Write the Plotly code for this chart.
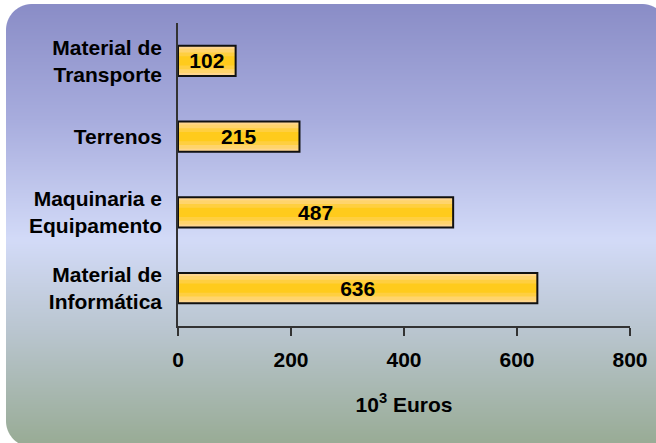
import base64
import struct
import zlib

import numpy as np
import plotly.graph_objects as go

# ---------------- data ----------------
categories = ["Material de<br>Informática", "Maquinaria e<br>Equipamento", "Terrenos", "Material de<br>Transporte"]
values = [636, 487, 215, 102]
x_ticks = [0, 200, 400, 600, 800]
x_title = "10<sup>3</sup> Euros"

# ---------------- layout geometry ----------------
W, H = 656, 443
ML, MR, MT, MB = 178, 26, 23, 117
PW, PH = W - ML - MR, H - MT - MB


def make_background_png():
    stops_y = np.array([0, 120, 240, 330, 443], dtype=float)
    stops_c = np.array([
        [137, 140, 198],
        [168, 173, 222],
        [211, 219, 248],
        [186, 198, 208],
        [153, 172, 150],
    ], dtype=float)
    ys = np.arange(H) + 0.5
    col = np.stack([np.interp(ys, stops_y, stops_c[:, k]) for k in range(3)], axis=1)
    img = np.zeros((H, W, 4), dtype=float)
    img[:, :, :3] = col[:, None, :]
    x0, y0, x1, y1, r = 6.0, 4.0, 668.0, 447.0, 26.0
    xx = np.arange(W)[None, :] + 0.5
    yy = np.arange(H)[:, None] + 0.5
    cx = np.clip(xx, x0 + r, x1 - r)
    cy = np.clip(yy, y0 + r, y1 - r)
    d = np.sqrt((xx - cx) ** 2 + (yy - cy) ** 2)
    alpha = np.clip(r + 0.5 - d, 0, 1)
    inside = (xx >= x0) & (xx <= x1) & (yy >= y0) & (yy <= y1)
    alpha = alpha * inside
    img[:, :, 3] = alpha * 255
    data = np.clip(img, 0, 255).astype(np.uint8)
    raw = b"".join(b"\x00" + data[i].tobytes() for i in range(H))

    def chunk(tag, payload):
        c = struct.pack(">I", len(payload)) + tag + payload
        return c + struct.pack(">I", zlib.crc32(tag + payload) & 0xFFFFFFFF)

    png = b"\x89PNG\r\n\x1a\n"
    png += chunk(b"IHDR", struct.pack(">IIBBBBB", W, H, 8, 6, 0, 0, 0))
    png += chunk(b"IDAT", zlib.compress(raw, 9))
    png += chunk(b"IEND", b"")
    return "data:image/png;base64," + base64.b64encode(png).decode()


FONT = "Liberation Sans, Arial, sans-serif"

fig = go.Figure()

layers = [(0.40, "#FFD68E"), (0.32, "#FFD46C"), (0.22, "#FFCF40"), (0.12, "#FFCB1C")]
for w, c in layers:
    fig.add_trace(go.Bar(
        x=values, y=categories, orientation="h", width=w,
        marker=dict(color=c, line=dict(width=0)),
        hoverinfo="skip", showlegend=False,
    ))

fig.add_trace(go.Bar(
    x=values, y=categories, orientation="h", width=0.40,
    marker=dict(color="rgba(0,0,0,0)", line=dict(color="#111111", width=2)),
    text=[str(v) for v in values], textposition="inside",
    insidetextanchor="middle", constraintext="none", textangle=0,
    textfont=dict(family=FONT, size=21, color="black", weight="bold"),
    showlegend=False,
))

fig.update_layout(
    width=W, height=H,
    margin=dict(l=ML, r=MR, t=MT, b=MB, pad=0, autoexpand=False),
    paper_bgcolor="white",
    plot_bgcolor="rgba(0,0,0,0)",
    barmode="overlay",
    font=dict(family=FONT, size=21, color="black", weight="bold"),
    images=[dict(
        source=make_background_png(),
        xref="paper", yref="paper",
        x=-ML / PW, y=1 + MT / PH,
        sizex=W / PW, sizey=H / PH,
        xanchor="left", yanchor="top",
        sizing="stretch", layer="below",
    )],
    xaxis=dict(
        range=[0, 800], tickvals=x_ticks, ticktext=[str(t) for t in x_ticks],
        showgrid=False, zeroline=False, automargin=False,
        showline=True, linecolor="#333333", linewidth=1.5,
        ticks="outside", ticklen=8, tickwidth=1.5, tickcolor="#333333",
        tickfont=dict(family=FONT, size=21, color="black", weight="bold"),
        ticklabelstandoff=6,
        title=dict(text=x_title, standoff=27,
                   font=dict(family=FONT, size=21, color="black", weight="bold")),
        fixedrange=True,
    ),
    yaxis=dict(
        categoryorder="array", categoryarray=categories,
        range=[-0.5, 3.5], automargin=False,
        showgrid=False, zeroline=False,
        showline=True, linecolor="#333333", linewidth=1.5,
        ticks="", ticklabelstandoff=10,
        tickfont=dict(family=FONT, size=21, color="black", weight="bold"),
        fixedrange=True,
    ),
)

fig.write_html(
    "out.html",
    config={"displayModeBar": False},
    post_script=(
        "document.documentElement.style.cssText='margin:0;padding:0;overflow:hidden;';"
        "document.body.style.cssText='margin:0;padding:0;overflow:hidden;width:656px;height:443px;';"
    ),
)
